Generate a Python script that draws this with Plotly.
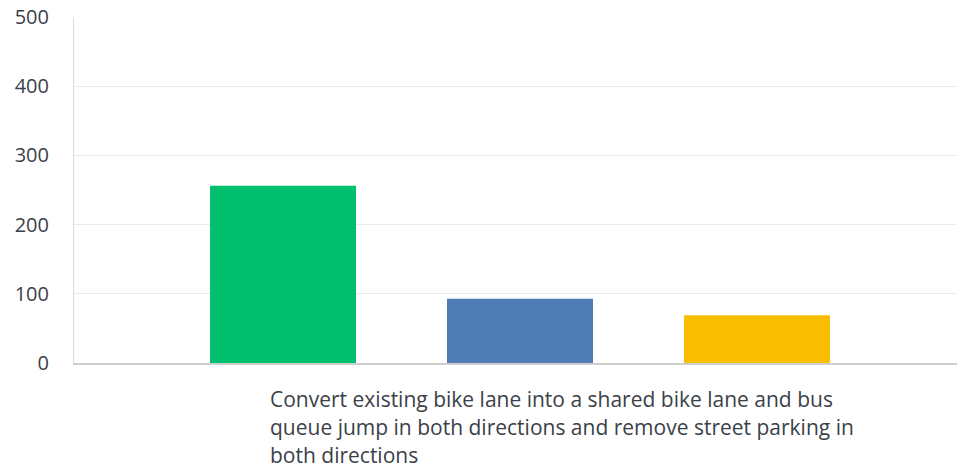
import plotly.graph_objects as go

category = "Convert existing bike lane into a shared bike lane and bus queue jump in both directions and remove street parking in both directions"
label_lines = [
    "Convert existing bike lane into a shared bike lane and bus",
    "queue jump in both directions and remove street parking in",
    "both directions",
]
series_names = ["Series 1", "Series 2", "Series 3"]
series_values = [256, 93, 69]
series_colors = ["#00BF6F", "#507CB6", "#F9BE00"]
y_ticks = [0, 100, 200, 300, 400, 500]

fig = go.Figure()
for name, val, col in zip(series_names, series_values, series_colors):
    fig.add_trace(go.Bar(x=[category], y=[val], name=name, marker=dict(color=col, line=dict(width=0))))

W, H = 966, 469
ml, mr, mt, mb = 74, 0, 17, 106
text_color = "#3b4148"
font_family = "Open Sans, sans-serif"

fig.update_layout(
    width=W, height=H,
    margin=dict(l=ml, r=mr, t=mt, b=mb),
    plot_bgcolor="white", paper_bgcolor="white",
    barmode="group", bargap=0.203, bargroupgap=0.384,
    showlegend=False,
    font=dict(family=font_family, size=20, color=text_color),
)
fig.update_yaxes(
    range=[0, 500], tickvals=y_ticks, showgrid=True, gridcolor="#ebebeb", gridwidth=1,
    showline=True, linecolor="#dcdcdc", linewidth=1, zeroline=False,
    ticklabelstandoff=20, tickfont=dict(size=20, color=text_color),
)
fig.update_xaxes(
    showticklabels=False, showline=True, linecolor="#cfcfcf", linewidth=2, showgrid=False,
)

plot_w = W - ml - mr
for i, line in enumerate(label_lines):
    fig.add_annotation(
        text=line, xref="paper", yref="paper", x=(268 - ml) / plot_w, y=0,
        xanchor="left", yanchor="middle", yshift=-(36 + 28 * i), showarrow=False,
        font=dict(size=21, color=text_color, family=font_family), align="left",
    )

fig.write_html(
    "out.html",
    config={"displayModeBar": False},
    post_script="document.body.style.margin='0';document.body.style.overflow='hidden';",
)
